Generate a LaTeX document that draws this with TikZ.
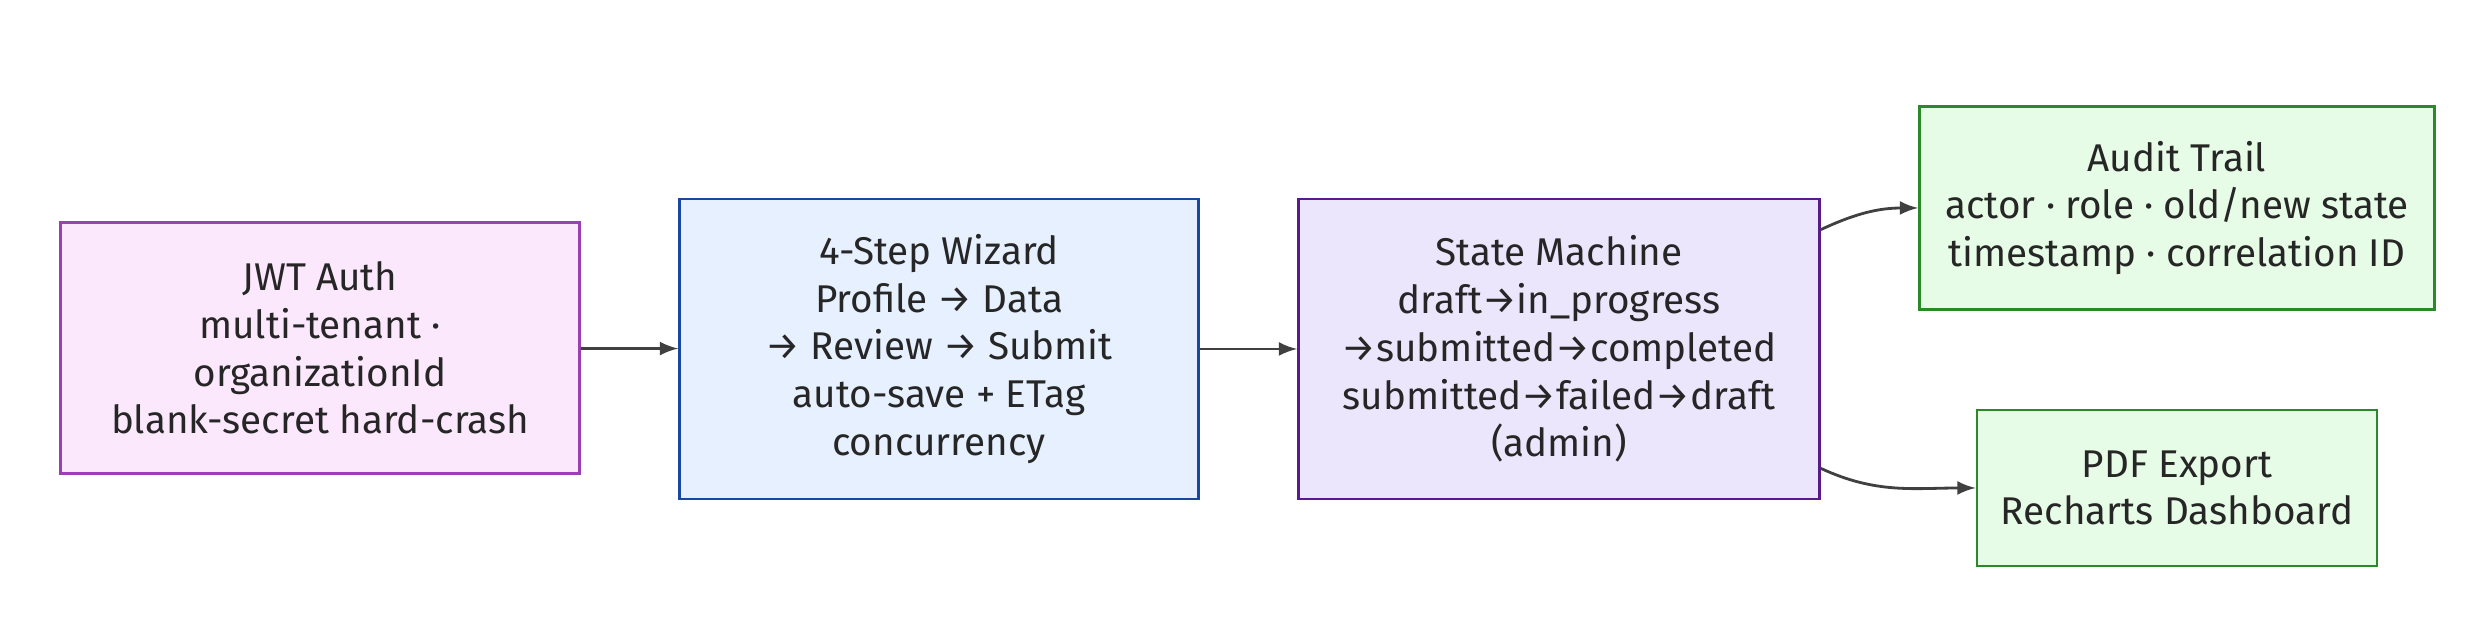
\documentclass[tikz,border=0pt]{standalone}
\usepackage{fontspec}
\setmainfont{Fira Sans}
\usepackage{xcolor}
\usetikzlibrary{arrows,positioning}
\definecolor{authfill}{HTML}{FCE8FC}
\definecolor{authdraw}{HTML}{9B3FB5}
\definecolor{wizfill}{HTML}{E6F0FF}
\definecolor{wizdraw}{HTML}{1A47A0}
\definecolor{smfill}{HTML}{ECE6FC}
\definecolor{smdraw}{HTML}{5A1A8C}
\definecolor{outfill}{HTML}{E6FCE6}
\definecolor{outdraw}{HTML}{2A8A2A}
\tikzset{basic/.style={draw,thick,align=center,font=\fontsize{11}{13.6}\selectfont,
                       text=black!85}}

\begin{document}
\begin{tikzpicture}[>=latex,
    % styles for the boxes
    auth/.style  ={basic, fill=authfill, draw=authdraw, minimum width=5.19cm, minimum height=2.51cm},
    wizard/.style={basic, fill=wizfill, draw=wizdraw, minimum width=5.19cm, minimum height=3.0cm},
    machine/.style={basic, fill=smfill, draw=smdraw, minimum width=5.21cm, minimum height=3.0cm},
    sink/.style  ={basic, fill=outfill, draw=outdraw},
    link/.style  ={->, thick, draw=black!75}
  ]
    \useasboundingbox (0,0) rectangle (24.9,6.42);
    \node[auth](jwt) at (3.20,2.94) {JWT Auth\\multi-tenant ·\\organizationId\\blank-secret hard-crash};
    \node[wizard](wiz) at (9.39,2.93) {4-Step Wizard\\Profile → Data\\→ Review → Submit\\auto-save + ETag\\concurrency};
    \node[machine](sm) at (15.59,2.93) {State Machine\\draft→in\_progress\\→submitted→completed\\submitted→failed→draft\\(admin)};
    \node[sink, minimum width=5.15cm, minimum height=2.03cm](audit) at (21.77,4.34)
      {Audit Trail\\actor · role · old/new state\\timestamp · correlation ID};
    \node[sink, minimum width=4.0cm, minimum height=1.56cm](pdf) at (21.77,1.54)
      {PDF Export\\Recharts Dashboard};

    \draw[link] (jwt) -- (wiz);
    \draw[link] (wiz) -- (sm);
    \draw[link] ([yshift=-0.32cm]sm.north east) to[out=25,in=180] (audit.west);
    \draw[link] ([yshift=0.32cm]sm.south east) to[out=-25,in=180] (pdf.west);
  \end{tikzpicture}
\end{document}
